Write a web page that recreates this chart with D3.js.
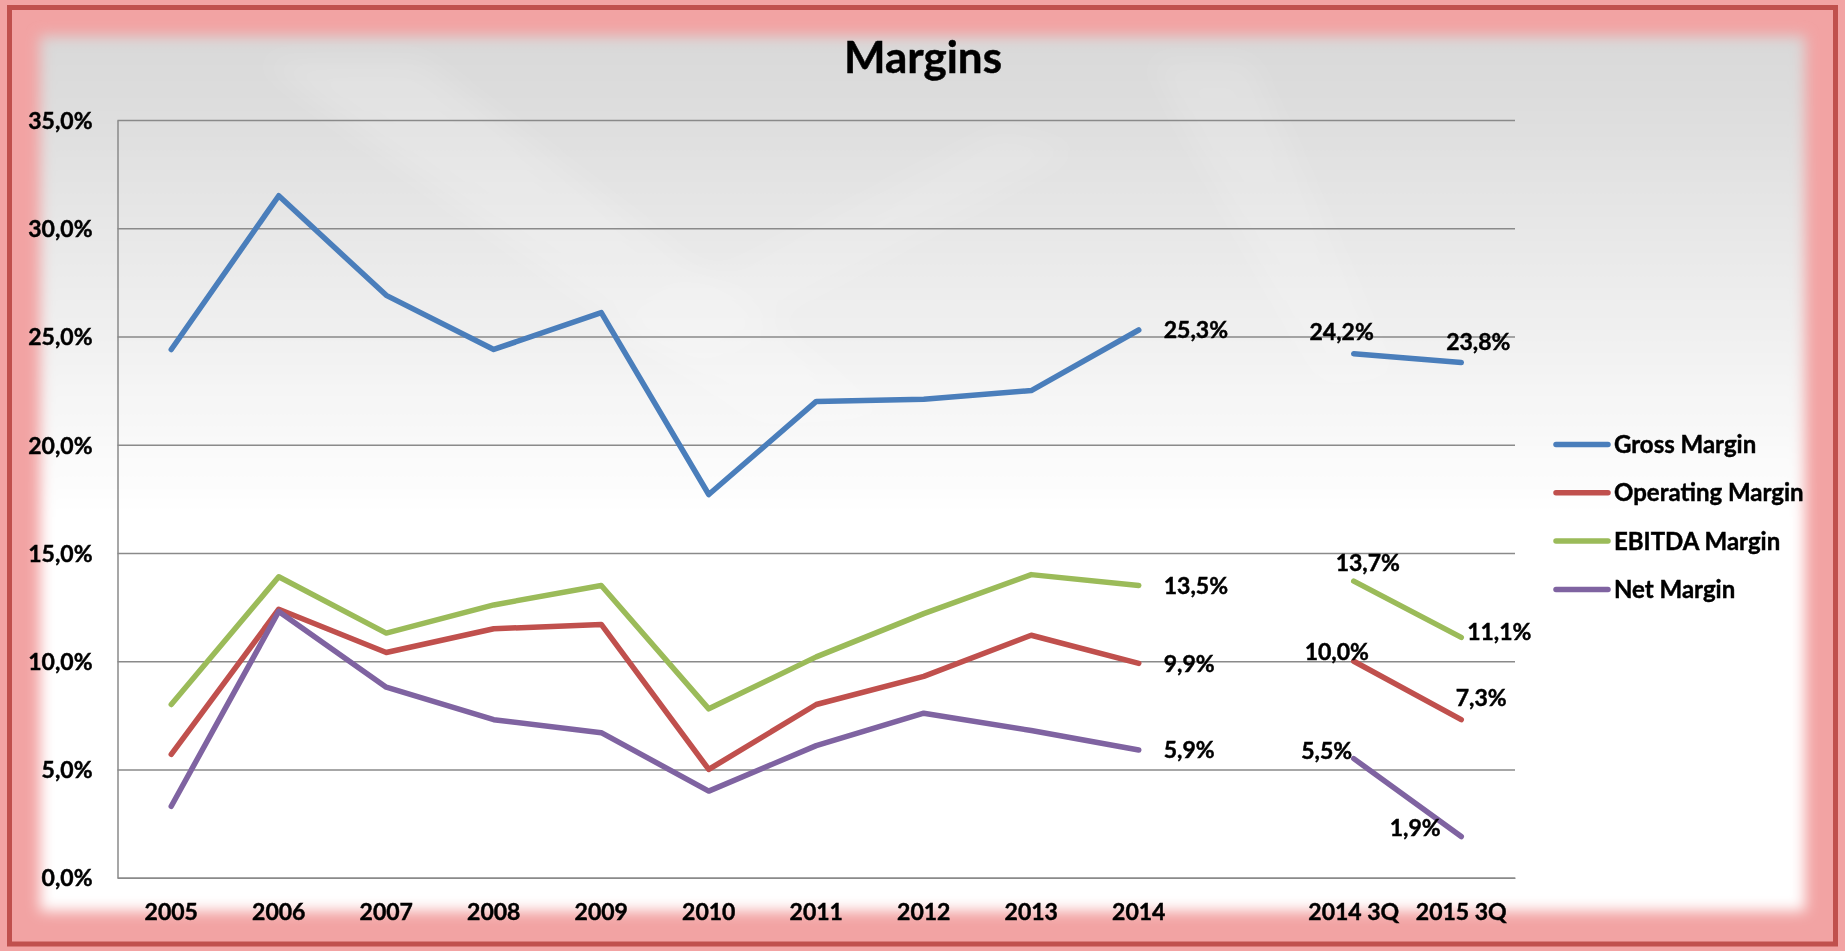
<!DOCTYPE html>
<html>
<head>
<meta charset="utf-8">
<script src="https://cdn.jsdelivr.net/npm/d3@7"></script>
<style>
  html, body { margin: 0; padding: 0; background: #fff; }
  svg { display: block; }
  text { font-family: Lato, "Open Sans", sans-serif; font-weight: bold; fill: #000; stroke: #000; stroke-width: 0.45px; }
</style>
</head>
<body>
<div id="chart"></div>
<script>
'use strict';

// data (percent)
const categories = ["2005", "2006", "2007", "2008", "2009", "2010", "2011", "2012", "2013", "2014", " ", "2014 3Q", "2015 3Q"];
const grossMargin     = [24.4, 31.5, 26.9, 24.4, 26.1, 17.7, 22.0, 22.1, 22.5, 25.3, null, 24.2, 23.8];
const operatingMargin = [5.7, 12.4, 10.4, 11.5, 11.7, 5.0, 8.0, 9.3, 11.2, 9.9, null, 10.0, 7.3];
const ebitdaMargin    = [8.0, 13.9, 11.3, 12.6, 13.5, 7.8, 10.2, 12.2, 14.0, 13.5, null, 13.7, 11.1];
const netMargin       = [3.3, 12.3, 8.8, 7.3, 6.7, 4.0, 6.1, 7.6, 6.8, 5.9, null, 5.5, 1.9];
const seriesNames = ["Gross Margin", "Operating Margin", "EBITDA Margin", "Net Margin"];
const yTicks = [0, 5, 10, 15, 20, 25, 30, 35];
const yTickLabels = ["0,0%", "5,0%", "10,0%", "15,0%", "20,0%", "25,0%", "30,0%", "35,0%"];
const labelledCategories = ["2014", "2014 3Q", "2015 3Q"];

const colors = ["#4a7ebb", "#c0504d", "#9bbb59", "#7f63a1"];

// where each data label sits relative to its point [dx, dy, anchor]
const labelPlace = {
    "2014":    [[25, 0, "start"], [25, 0, "start"], [25, 0, "start"], [25, 0, "start"]],
    "2014 3Q": [[20, -22, "end"], [-17, -9, "middle"], [14, -18, "middle"], [-27, -8, "middle"]],
    "2015 3Q": [[17, -21, "middle"], [20, -22, "middle"], [38, -6, "middle"], [-46, -9, "middle"]]
};

const W = 1845, H = 951;
const plot = {left: 117.5, right: 1515, top: 120, bottom: 877.7};

const svg = d3.select("#chart").append("svg")
    .attr("width", W)
    .attr("height", H);

const defs = svg.append("defs");
const grad = defs.append("linearGradient")
    .attr("id", "bgGrad")
    .attr("x1", 0).attr("y1", 0).attr("x2", 0).attr("y2", 1);
grad.append("stop").attr("offset", "0%").attr("stop-color", "#d8d8d8");
grad.append("stop").attr("offset", "15%").attr("stop-color", "#e2e2e2");
grad.append("stop").attr("offset", "38%").attr("stop-color", "#f3f3f3");
grad.append("stop").attr("offset", "55%").attr("stop-color", "#ffffff");
grad.append("stop").attr("offset", "100%").attr("stop-color", "#ffffff");

defs.append("filter").attr("id", "soft")
    .attr("x", "-5%").attr("y", "-5%").attr("width", "110%").attr("height", "110%")
    .append("feGaussianBlur").attr("stdDeviation", 7);
defs.append("filter").attr("id", "streak")
    .append("feGaussianBlur").attr("stdDeviation", 14);

// background: pink surround, soft grey panel, red frame
svg.append("rect")
    .attr("width", W).attr("height", H)
    .attr("fill", "#f2a3a3");
svg.append("rect")
    .attr("x", 40).attr("y", 36)
    .attr("width", W - 80).attr("height", H - 76)
    .attr("fill", "url(#bgGrad)")
    .attr("filter", "url(#soft)");

// faint diagonal light bands in the panel
const streaks = svg.append("g").attr("filter", "url(#streak)").attr("fill", "#fff");
streaks.append("path").attr("d", "M260,60 L420,60 L900,420 L760,430 Z").attr("opacity", 0.18);
streaks.append("path").attr("d", "M1150,60 L1250,60 L1400,380 L1320,390 Z").attr("opacity", 0.14);
streaks.append("path").attr("d", "M600,330 L1000,130 L1080,150 L700,360 Z").attr("opacity", 0.12);

svg.append("rect")
    .attr("x", 9.5).attr("y", 7.5)
    .attr("width", 1826).attr("height", 936.5)
    .attr("fill", "none")
    .attr("stroke", "#c0504d")
    .attr("stroke-width", 5);

// scales
const x = d3.scaleBand()
    .domain(categories)
    .range([plot.left, plot.right])
    .padding(0);
const cx = c => x(c) + x.bandwidth() / 2;

const y = d3.scaleLinear()
    .domain([0, 35])
    .range([plot.bottom, plot.top]);

// y axis with gridlines
const yAxis = svg.append("g")
    .attr("transform", `translate(${plot.left},0)`)
    .call(d3.axisLeft(y)
        .tickValues(yTicks)
        .tickFormat((d, i) => yTickLabels[i])
        .tickSizeInner(-(plot.right - plot.left))
        .tickSizeOuter(0)
        .tickPadding(25));
yAxis.select(".domain").attr("stroke", "#8a8a8a").attr("stroke-width", 1.5);
yAxis.selectAll(".tick line").attr("stroke", "#8a8a8a").attr("stroke-width", 1.5);
yAxis.selectAll(".tick text")
    .attr("font-size", 23)
    .attr("dy", "0.36em");
yAxis.attr("font-family", null).attr("font-size", null);

// x axis
const xAxis = svg.append("g")
    .attr("transform", `translate(0,${plot.bottom})`)
    .call(d3.axisBottom(x).tickSize(0).tickPadding(26));
xAxis.select(".domain").attr("stroke", "#8a8a8a").attr("stroke-width", 1.5);
xAxis.selectAll(".tick text").attr("font-size", 23).attr("dy", "0.71em");
xAxis.attr("font-family", null).attr("font-size", null);

// lines
const allSeries = [grossMargin, operatingMargin, ebitdaMargin, netMargin];
const line = d3.line()
    .defined(d => d.v !== null)
    .x(d => cx(d.c))
    .y(d => y(d.v));

const lines = svg.append("g").attr("class", "lines");
allSeries.forEach((vals, s) => {
    const pts = categories.map((c, i) => ({c: c, v: vals[i]}));
    lines.append("path")
        .datum(pts)
        .attr("d", line)
        .attr("fill", "none")
        .attr("stroke", colors[s])
        .attr("stroke-width", 5.5)
        .attr("stroke-linejoin", "round")
        .attr("stroke-linecap", "round");
});

// data labels
const fmt = v => d3.format(".1f")(v).replace(".", ",") + "%";
const labels = svg.append("g").attr("class", "labels");
allSeries.forEach((vals, s) => {
    labelledCategories.forEach(c => {
        const i = categories.indexOf(c);
        const p = labelPlace[c][s];
        labels.append("text")
            .attr("x", cx(c) + p[0])
            .attr("y", y(vals[i]) + p[1])
            .attr("dy", "0.36em")
            .attr("text-anchor", p[2])
            .attr("font-size", 23)
            .text(fmt(vals[i]));
    });
});

// title
svg.append("text")
    .attr("x", 923)
    .attr("y", 73)
    .attr("text-anchor", "middle")
    .attr("font-size", 44)
    .text("Margins");

// legend
const legend = svg.append("g").attr("class", "legend");
seriesNames.forEach((name, s) => {
    const ly = 444.5 + s * 48.3;
    legend.append("line")
        .attr("x1", 1556).attr("x2", 1608)
        .attr("y1", ly).attr("y2", ly)
        .attr("stroke", colors[s])
        .attr("stroke-width", 5.5)
        .attr("stroke-linecap", "round");
    legend.append("text")
        .attr("x", 1614)
        .attr("y", ly)
        .attr("dy", "0.36em")
        .attr("font-size", 24)
        .text(name);
});
</script>
</body>
</html>
